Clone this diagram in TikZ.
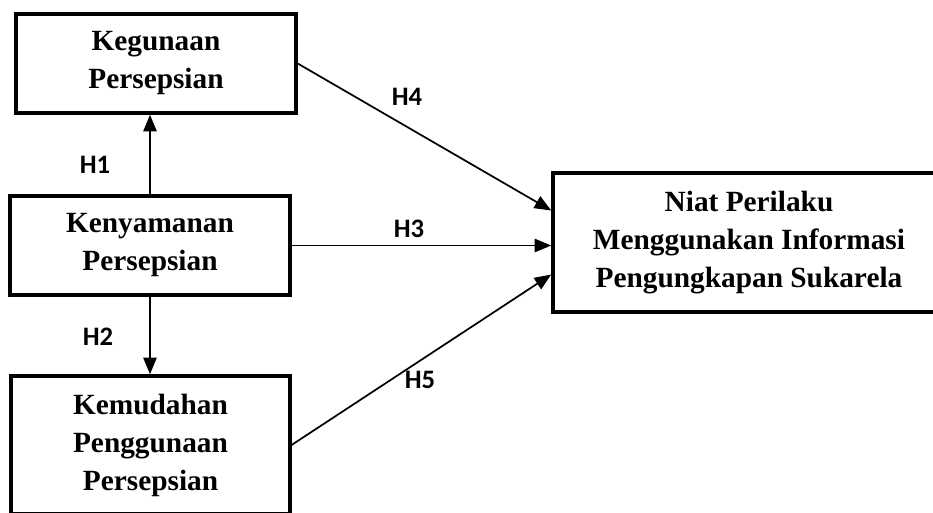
\documentclass[tikz,border=0pt]{standalone}
\usepackage{fontspec}
\setmainfont{Liberation Serif}
\newfontfamily\hfont{Carlito}
\usetikzlibrary{arrows.meta}

\begin{document}
\begin{tikzpicture}[x=0.75pt, y=-0.75pt]
\tikzset{boite/.style={draw, line width=2.6pt, align=center, inner sep=0pt,
  font=\bfseries\fontsize{22}{28.5}\selectfont},
  hypo/.style={font=\hfont\bfseries\fontsize{20}{24}\selectfont, inner sep=0pt},
  fleche/.style={line width=1.3pt, -{Triangle[length=12.5pt, width=10pt]}}}
\useasboundingbox (0, 0) rectangle (933, 512);
\clip (0, 0) rectangle (933, 512);
\node[boite, minimum width=210pt, minimum height=74.25pt] (KP) at (156, 63.5) {Kegunaan\\Persepsian};
\node[boite, minimum width=210pt, minimum height=74.25pt] (NP) at (150, 245.5) {Kenyamanan\\Persepsian};
\node[boite, minimum width=209pt, minimum height=103.5pt] (MP) at (150.5, 445) {Kemudahan\\Penggunaan\\Persepsian};
\node[boite, minimum width=294pt, minimum height=104pt] (NI) at (749, 242.5) {Niat Perilaku\\Menggunakan Informasi\\Pengungkapan Sukarela};
\draw[fleche] (NP.north) -- (NP.north |- KP.south);
\draw[fleche] (NP.south) -- (NP.south |- MP.north);
\draw[fleche] (KP.east) -- ([yshift=24pt]NI.west);
\draw[fleche] (NP.east) -- (NP.east -| NI.west);
\draw[fleche] (MP.east) -- ([yshift=-24pt]NI.west);
\node[hypo] (H1) at (95, 165) {H1};
\node[hypo] (H2) at (98, 337) {H2};
\node[hypo] (H3) at (409, 229) {H3};
\node[hypo] (H4) at (407, 97) {H4};
\node[hypo] (H5) at (420, 380) {H5};
\end{tikzpicture}
\end{document}
